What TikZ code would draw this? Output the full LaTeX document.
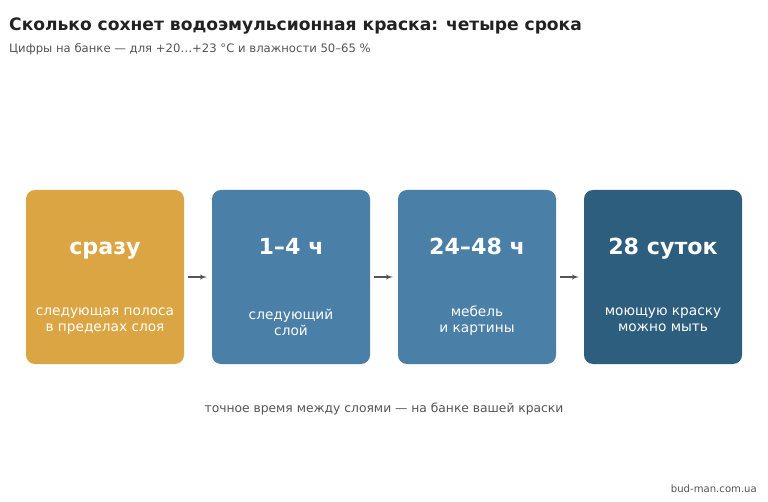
\documentclass[tikz,border=0pt]{standalone}
\usepackage{fontspec}
\setmainfont{DejaVu Sans}
\usepackage{tikz}
\usetikzlibrary{shapes,arrows,calc}
\definecolor{paintOrange}{HTML}{DBA544}
\definecolor{paintBlue}{HTML}{4A7FA7}
\definecolor{paintDark}{HTML}{2E5E7E}
\definecolor{inkDark}{HTML}{222222}
\definecolor{inkGray}{HTML}{555555}
\tikzstyle{line} = [draw=inkGray, line width=1.3pt, -latex', shorten <=4pt, shorten >=5pt]
\tikzstyle{stage} = [rectangle, rounded corners=9pt, minimum width=158pt, minimum height=174pt, inner sep=0pt]
\tikzstyle{term} = [anchor=base, text=white, inner sep=0pt, font=\fontsize{22.2}{26}\selectfont\bfseries]
\tikzstyle{note} = [text=white, align=center, font=\fontsize{13.7}{16}\selectfont]

\begin{document}
\begin{tikzpicture}[x=1pt, y=-1pt]
        \useasboundingbox[fill=white] (0,0) rectangle (768,502);
        \node[anchor=base west, text=inkDark, font=\fontsize{17.1}{20}\selectfont\bfseries, inner sep=0pt] (title) at (9,31) {Сколько сохнет водоэмульсионная краска: четыре срока};
        \node[anchor=base west, text=inkGray, font=\fontsize{11.65}{14}\selectfont, inner sep=0pt] (subtitle) at (9,53) {Цифры на банке — для +20…+23 °C и влажности 50–65 \%};
        % stages
        \node[stage, fill=paintOrange] (now) at (105,277) {};
        \node[stage, fill=paintBlue] (coat) at (291,277) {};
        \node[stage, fill=paintBlue] (furn) at (477,277) {};
        \node[stage, fill=paintDark] (wash) at (663,277) {};
        \node[term] (nowT) at (105,254.5) {сразу};
        \node[term] (coatT) at (291,254.5) {1–4 ч};
        \node[term] (furnT) at (477,254.5) {24–48 ч};
        \node[term] (washT) at (663,254.5) {28 суток};
        \node[note] (nowN) at (105,321) {следующая полоса\\в пределах слоя};
        \node[note] (coatN) at (291,322) {следующий\\слой};
        \node[note] (furnN) at (477,320.5) {мебель\\и картины};
        \node[note] (washN) at (663,320) {моющую краску\\можно мыть};
        \path[line] (now) -- (coat);
        \path[line] (coat) -- (furn);
        \path[line] (furn) -- (wash);
        \node[text=inkGray, font=\fontsize{12.3}{15}\selectfont] (footer) at (384,409) {точное время между слоями — на банке вашей краски};
        \node[anchor=east, text=inkGray, font=\fontsize{10.1}{12}\selectfont, inner sep=0pt] (source) at (757,489) {bud-man.com.ua};
    \end{tikzpicture}
\end{document}
